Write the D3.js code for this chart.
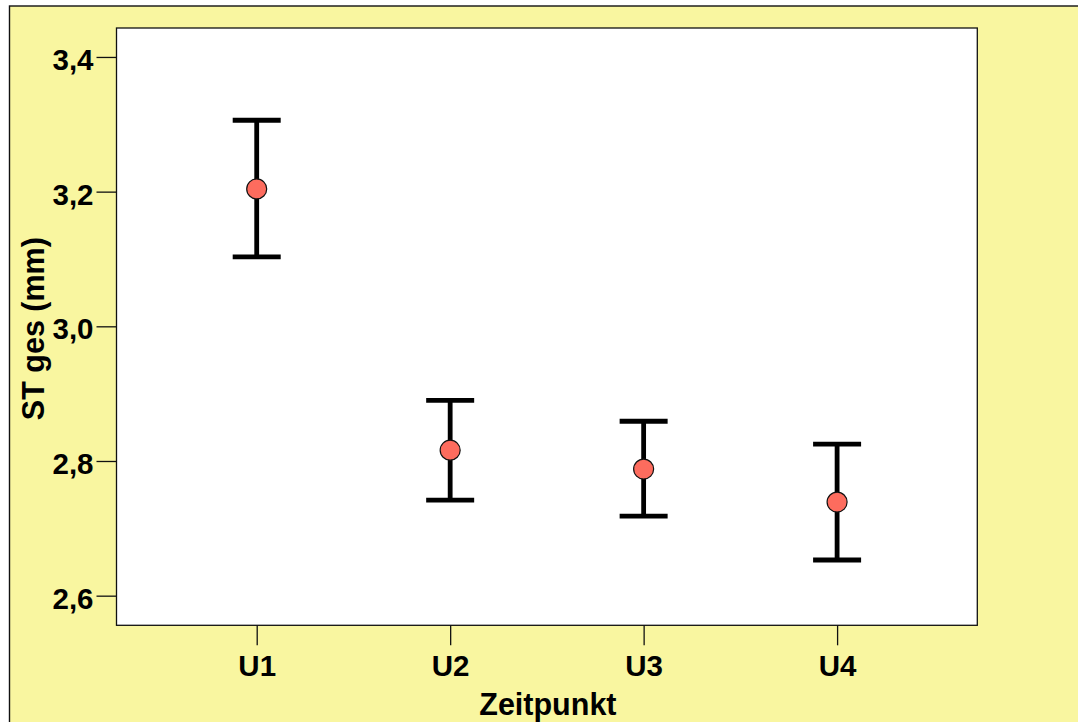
<!DOCTYPE html>
<html><head><meta charset="utf-8">
<script src="https://cdn.jsdelivr.net/npm/d3@7"></script>
<style>
html,body{margin:0;padding:0;background:#fff;}
svg{display:block;}
text{font-family:"Liberation Sans",Arial,Helvetica,sans-serif;font-weight:bold;fill:#000;}
</style></head>
<body>
<script>
const categories = ["U1", "U2", "U3", "U4"];
const means = [3.204, 2.816, 2.788, 2.739];
const upper = [3.306, 2.890, 2.859, 2.825];
const lower = [3.103, 2.742, 2.718, 2.653];
const yTicks = [2.6, 2.8, 3.0, 3.2, 3.4];
const yDomain = [2.556, 3.443];
const xTitle = "Zeitpunkt";
const yTitle = "ST ges (mm)";

const W = 1078, H = 722;
const plot = {left: 116.5, top: 28, right: 977.3, bottom: 625.3};

const svg = d3.select("body").append("svg").attr("width", W).attr("height", H);

// outer yellow panel
svg.append("rect").attr("x", 9.5).attr("y", 6).attr("width", W + 20).attr("height", H + 20)
  .attr("fill", "#f9f6a0").attr("stroke", "#111").attr("stroke-width", 1.4);

// plot area
svg.append("rect").attr("x", plot.left).attr("y", plot.top)
  .attr("width", plot.right - plot.left).attr("height", plot.bottom - plot.top)
  .attr("fill", "#fff").attr("stroke", "#111").attr("stroke-width", 1.3);

const x = d3.scalePoint().domain(categories).range([plot.left, plot.right]).padding(0.7247);
const y = d3.scaleLinear().domain(yDomain).range([plot.bottom, plot.top]);

const fmt = d => d3.format(".1f")(d).replace(".", ",");

const yAxis = svg.append("g").attr("transform", `translate(${plot.left},0)`)
  .call(d3.axisLeft(y).tickValues(yTicks).tickFormat(fmt).tickSize(20).tickPadding(3));
yAxis.select(".domain").remove();
yAxis.selectAll(".tick line").attr("stroke", "#111").attr("stroke-width", 1.3);
yAxis.selectAll(".tick text").attr("font-size", 29.5).attr("dy", "12.5").attr("fill", "#000");

const xAxis = svg.append("g").attr("transform", `translate(0,${plot.bottom})`)
  .call(d3.axisBottom(x).tickSize(20).tickPadding(8));
xAxis.select(".domain").remove();
xAxis.selectAll(".tick line").attr("stroke", "#111").attr("stroke-width", 1.3);
xAxis.selectAll(".tick text").attr("font-size", 29.5).attr("dy", "0").attr("y", 51).attr("fill", "#000");

// axis titles
svg.append("text").attr("x", (plot.left + plot.right) / 2 + 1).attr("y", 714.5)
  .attr("text-anchor", "middle").attr("font-size", 30.5).text(xTitle);
svg.append("text").attr("transform", `translate(44,${(plot.top + plot.bottom) / 2 + 2}) rotate(-90)`)
  .attr("text-anchor", "middle").attr("font-size", 30.5).text(yTitle);

// error bars
const data = categories.map((c, i) => ({c, m: means[i], hi: upper[i], lo: lower[i]}));
const g = svg.append("g");
const capW = 24;
g.selectAll("line.v").data(data).join("line").attr("class", "v")
  .attr("x1", d => x(d.c)).attr("x2", d => x(d.c))
  .attr("y1", d => y(d.hi)).attr("y2", d => y(d.lo))
  .attr("stroke", "#000").attr("stroke-width", 4.8);
g.selectAll("line.top").data(data).join("line").attr("class", "top")
  .attr("x1", d => x(d.c) - capW).attr("x2", d => x(d.c) + capW)
  .attr("y1", d => y(d.hi)).attr("y2", d => y(d.hi))
  .attr("stroke", "#000").attr("stroke-width", 4.8);
g.selectAll("line.bot").data(data).join("line").attr("class", "bot")
  .attr("x1", d => x(d.c) - capW).attr("x2", d => x(d.c) + capW)
  .attr("y1", d => y(d.lo)).attr("y2", d => y(d.lo))
  .attr("stroke", "#000").attr("stroke-width", 4.8);
g.selectAll("circle").data(data).join("circle")
  .attr("cx", d => x(d.c)).attr("cy", d => y(d.m)).attr("r", 10)
  .attr("fill", "#fd6c5e").attr("stroke", "#111").attr("stroke-width", 1.2);
</script>
</body></html>
